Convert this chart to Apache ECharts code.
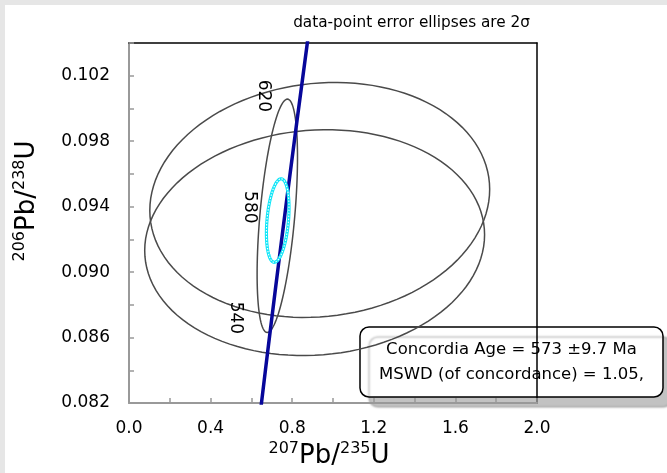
<!DOCTYPE html>
<html>
<head>
<meta charset="utf-8">
<script src="https://cdn.jsdelivr.net/npm/echarts@6/dist/echarts.min.js"></script>
<style>
html, body { margin: 0; padding: 0; background: #fff; }
#chart { width: 667px; height: 473px; background: #fff; box-shadow: inset 5px 5px 0 #e6e6e6; }
</style>
</head>
<body>
<div id="chart"></div>
<script>
// concordia curve: ages (Ma) and ratios along the blue line
var concAge = [500, 520, 540, 560, 580, 600, 620, 640]
var concX = [0.6363, 0.6688, 0.7020, 0.7359, 0.7704, 0.8056, 0.8416, 0.8782]
var concY = [0.08065, 0.08401, 0.08738, 0.09076, 0.09414, 0.09754, 0.10095, 0.10438]
// ages written beside the curve
var ageLabels = [540, 580, 620]
// data-point ellipses: centre, half width, half height, correlation
var ellX = [0.935, 0.910, 0.727]
var ellXErr = [0.833, 0.833, 0.099]
var ellY = [0.09441, 0.09180, 0.09344]
var ellYErr = [0.00718, 0.00690, 0.00713]
var ellRho = [0.09, 0.07, 0.5]
// concordia age ellipse
var ageEll = [0.729, 0.0554, 0.09315, 0.00255, 0.3]
var xTickLabels = ['0.0', '0.4', '0.8', '1.2', '1.6', '2.0']
var yTickLabels = ['0.082', '0.086', '0.090', '0.094', '0.098', '0.102']

var font = 'DejaVu Sans'

function ellipsePoints (api) {
  var cx = api.value(0), ex = api.value(1), cy = api.value(2), ey = api.value(3), r = api.value(4)
  var pts = []
  for (var i = 0; i <= 120; i++) {
    var t = i / 120 * Math.PI * 2
    pts.push(api.coord([cx + ex * Math.cos(t), cy + ey * (r * Math.cos(t) + Math.sqrt(1 - r * r) * Math.sin(t))]))
  }
  return pts
}

var ellData = ellX.map(function (x, i) { return [x, ellXErr[i], ellY[i], ellYErr[i], ellRho[i]] })
var labelData = ageLabels.map(function (a) {
  var i = concAge.indexOf(a)
  return [concX[i], concY[i], a]
})

var nameRich = {
  m: { fontSize: 26, fontFamily: font, fill: '#000', lineHeight: 30 },
  s: { fontSize: 16, fontFamily: font, fill: '#000', verticalAlign: 'top', lineHeight: 30 }
}

var chart = echarts.init(document.getElementById('chart'))
var option = {
  animation: false,
  title: {
    text: 'data-point error ellipses are 2σ',
    right: 132,
    top: 11,
    textStyle: { fontSize: 15.3, fontWeight: 'normal', color: '#000', fontFamily: font }
  },
  grid: { left: 129, top: 43, width: 408, height: 360 },
  xAxis: [
    {
      type: 'value', min: 0, max: 2, interval: 0.2,
      axisLine: { onZero: false, lineStyle: { color: '#999', width: 2 } },
      axisTick: { inside: true, length: 5, lineStyle: { color: '#999', width: 1.5 } },
      axisLabel: {
        margin: 17, fontSize: 17, fontFamily: font, color: '#000',
        formatter: function (v) { var s = v.toFixed(1); return xTickLabels.indexOf(s) >= 0 ? s : '' }
      },
      splitLine: { show: false }
    },
    {
      type: 'value', position: 'top', min: 0, max: 2,
      axisLine: { show: true, onZero: false, lineStyle: { color: '#000', width: 1.5 } },
      axisTick: { show: false }, axisLabel: { show: false }, splitLine: { show: false }
    }
  ],
  yAxis: [
    {
      type: 'value', min: 0.082, max: 0.104, interval: 0.002,
      axisLine: { show: true, onZero: false, lineStyle: { color: '#999', width: 2 } },
      axisTick: { show: true, inside: true, length: 5, lineStyle: { color: '#999', width: 1.5 } },
      axisLabel: {
        margin: 19, fontSize: 17, fontFamily: font, color: '#000',
        formatter: function (v) { var s = v.toFixed(3); return yTickLabels.indexOf(s) >= 0 ? s : '' }
      },
      splitLine: { show: false }
    },
    {
      type: 'value', position: 'right', min: 0.082, max: 0.104,
      axisLine: { show: true, onZero: false, lineStyle: { color: '#000', width: 1.5 } },
      axisTick: { show: false }, axisLabel: { show: false }, splitLine: { show: false }
    }
  ],
  series: [
    {
      type: 'custom',
      clip: true,
      encode: { x: 0, y: 2 },
      data: ellData,
      renderItem: function (params, api) {
        return { type: 'polygon', shape: { points: ellipsePoints(api) }, style: { fill: 'none', stroke: '#4a4a4a', lineWidth: 1.5 } }
      },
      z: 2
    },
    {
      type: 'line',
      data: concX.map(function (x, i) { return [x, concY[i]] }),
      showSymbol: false,
      smooth: true,
      lineStyle: { color: '#07079a', width: 3.5 },
      z: 3
    },
    {
      type: 'custom',
      clip: true,
      encode: { x: 0, y: 2 },
      data: [ageEll],
      renderItem: function (params, api) {
        var pts = ellipsePoints(api)
        return {
          type: 'group',
          children: [
            { type: 'polygon', shape: { points: pts }, style: { fill: 'none', stroke: '#10e6f8', lineWidth: 3.2 } },
            { type: 'polygon', shape: { points: pts }, style: { fill: 'none', stroke: '#ffffff', lineWidth: 1.1, lineDash: [1.5, 1.5] } }
          ]
        }
      },
      z: 4
    },
    {
      type: 'custom',
      encode: { x: 0, y: 1 },
      data: labelData,
      renderItem: function (params, api) {
        var p = api.coord([api.value(0), api.value(1)])
        return {
          type: 'text', x: p[0] - 37, y: p[1] + 3, rotation: -Math.PI / 2,
          style: { text: String(api.value(2)), fontSize: 17, fontFamily: font, fill: '#000', align: 'center', verticalAlign: 'middle' }
        }
      },
      z: 5
    }
  ],
  graphic: [
    {
      // x-axis title
      type: 'text', x: 329, y: 441, z: 50,
      style: { text: '{s|207}{m|Pb/}{s|235}{m|U}', rich: nameRich, align: 'center', verticalAlign: 'top' }
    },
    {
      // y-axis title
      type: 'text', x: 27, y: 201, rotation: Math.PI / 2, z: 50,
      style: { text: '{s|206}{m|Pb/}{s|238}{m|U}', rich: nameRich, align: 'center', verticalAlign: 'middle' }
    },
    {
      type: 'group', x: 360, y: 327, z: 100,
      children: [
        {
          type: 'rect',
          shape: { x: 0, y: 0, width: 303, height: 70, r: 9 },
          style: { fill: '#fff', stroke: '#000', lineWidth: 1.5, shadowColor: 'rgba(0,0,0,0.24)', shadowOffsetX: 9, shadowOffsetY: 10, shadowBlur: 2 }
        },
        {
          type: 'text', x: 151.5, y: 35,
          style: {
            text: 'Concordia Age = 573 ±9.7 Ma\nMSWD (of concordance) = 1.05,',
            align: 'center', verticalAlign: 'middle', lineHeight: 25,
            fontSize: 16.5, fontFamily: font, fill: '#000'
          }
        }
      ]
    }
  ]
}
chart.setOption(option)
</script>
</body>
</html>
